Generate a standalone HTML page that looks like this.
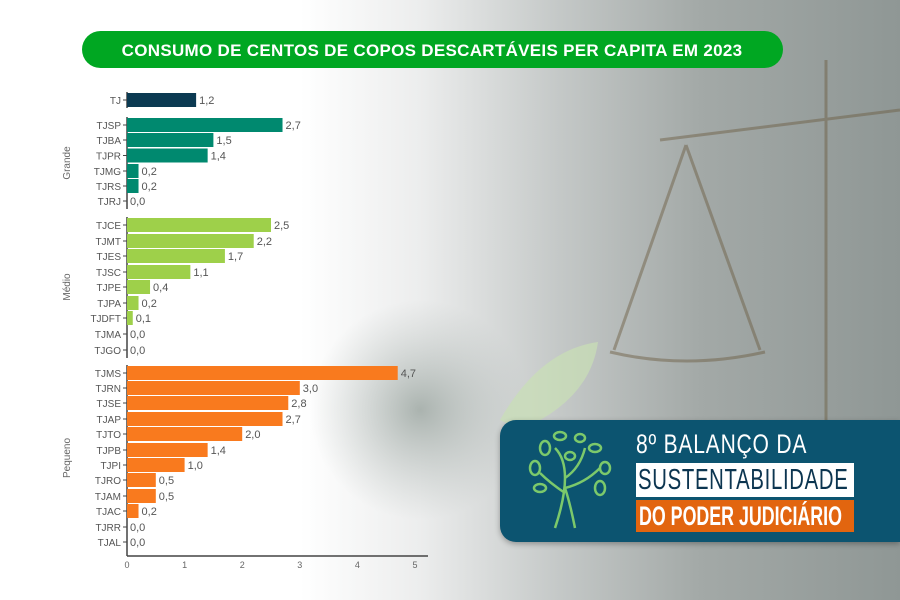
<!DOCTYPE html>
<html><head><meta charset="utf-8"><style>
html,body{margin:0;padding:0;width:900px;height:600px;overflow:hidden}
body{background:linear-gradient(90deg,#fff 0px,#fff 300px,#eceded 420px,#c4c8c7 560px,#a3a9a7 700px,#8f9795 900px);font-family:"Liberation Sans",sans-serif}
div{white-space:nowrap}
</style></head><body>
<svg width="900" height="600" style="position:absolute;left:0;top:0" font-family="Liberation Sans, sans-serif">
<defs>
<radialGradient id="g" cx="0.5" cy="0.5" r="0.5"><stop offset="0" stop-color="#8e9a94" stop-opacity="0.7"/><stop offset="1" stop-color="#b0b8b5" stop-opacity="0"/></radialGradient>
</defs>
<circle cx="420" cy="410" r="110" fill="url(#g)"/>
<path d="M500 420 Q540 350 598 342 Q590 400 520 430 Z" fill="#c9e0b5" opacity="0.7"/>
<g stroke="#6a5a3e" stroke-width="3" fill="none" opacity="0.45">
<line x1="826" y1="60" x2="826" y2="420"/>
<line x1="660" y1="140" x2="900" y2="110"/>
<line x1="686" y1="145" x2="614" y2="350"/>
<line x1="686" y1="145" x2="760" y2="350"/>
<path d="M610 352 Q686 370 765 352"/>
</g>
<rect x="82" y="31" width="701" height="37" rx="18.5" fill="#00a722"/>
<text x="432" y="56" fill="#fff" font-size="17" font-weight="bold" text-anchor="middle" letter-spacing="0.3">CONSUMO DE CENTOS DE COPOS DESCARTÁVEIS PER CAPITA EM 2023</text>
<g stroke="#444" stroke-width="1.5">
<line x1="127" y1="92" x2="127" y2="108"/>
<line x1="127" y1="117" x2="127" y2="209"/>
<line x1="127" y1="217" x2="127" y2="358"/>
<line x1="127" y1="365" x2="127" y2="556"/>
<line x1="127" y1="556" x2="428" y2="556"/>
</g>
<g font-size="9" fill="#666" text-anchor="middle">
<text x="127" y="568">0</text><text x="184.6" y="568">1</text><text x="242.2" y="568">2</text><text x="299.8" y="568">3</text><text x="357.4" y="568">4</text><text x="415" y="568">5</text>
</g>
<g font-size="10" fill="#666" text-anchor="middle">
<text transform="translate(70,163) rotate(-90)">Grande</text>
<text transform="translate(70,287) rotate(-90)">Médio</text>
<text transform="translate(70,458) rotate(-90)">Pequeno</text>
</g>
<g id="bars" font-size="11" fill="#555"></g>
</svg>
<script>
var d=[["TJ",100,1.2,"#0b3a52"],
["TJSP",125,2.7,"#00896f"],["TJBA",140,1.5,"#00896f"],["TJPR",155.5,1.4,"#00896f"],["TJMG",171,0.2,"#00896f"],["TJRS",186,0.2,"#00896f"],["TJRJ",201,0,"#00896f"],
["TJCE",225,2.5,"#9ed04a"],["TJMT",241,2.2,"#9ed04a"],["TJES",256,1.7,"#9ed04a"],["TJSC",272,1.1,"#9ed04a"],["TJPE",287,0.4,"#9ed04a"],["TJPA",303,0.2,"#9ed04a"],["TJDFT",318,0.1,"#9ed04a"],["TJMA",334,0,"#9ed04a"],["TJGO",350,0,"#9ed04a"],
["TJMS",373,4.7,"#f97a1e"],["TJRN",388,3.0,"#f97a1e"],["TJSE",403,2.8,"#f97a1e"],["TJAP",419,2.7,"#f97a1e"],["TJTO",434,2.0,"#f97a1e"],["TJPB",450,1.4,"#f97a1e"],["TJPI",465,1.0,"#f97a1e"],["TJRO",480,0.5,"#f97a1e"],["TJAM",496,0.5,"#f97a1e"],["TJAC",511,0.2,"#f97a1e"],["TJRR",527,0,"#f97a1e"],["TJAL",542,0,"#f97a1e"]];
var s="";d.forEach(function(r){var w=r[2]*57.6;
s+='<rect x="127" y="'+(r[1]-7)+'" width="'+w+'" height="14" fill="'+r[3]+'"/>';
s+='<line x1="123" x2="127" y1="'+r[1]+'" y2="'+r[1]+'" stroke="#444"/>';
s+='<text x="121" y="'+(r[1]+4)+'" text-anchor="end" font-size="10" fill="#555">'+r[0]+'</text>';
s+='<text x="'+(130+w)+'" y="'+(r[1]+4)+'">'+r[2].toFixed(1).replace(".",",")+'</text>';});
document.getElementById("bars").innerHTML=s;
</script>
<div style="position:absolute;left:500px;top:420px;width:400px;height:122px;background:#0c5470;border-radius:16px 0 0 16px;box-shadow:0 2px 6px rgba(0,0,0,0.3)"></div>
<svg width="90" height="110" style="position:absolute;left:525px;top:428px" fill="none" stroke="#7cc96b" stroke-width="2.5">
<path d="M30 100 Q40 70 40 50 Q40 30 30 20 M40 50 Q55 40 60 20 M40 60 Q60 55 75 40 M40 65 Q25 55 15 45 M50 100 Q45 75 40 60"/>
<ellipse cx="20" cy="20" rx="5" ry="7"/><ellipse cx="35" cy="8" rx="6" ry="4"/><ellipse cx="55" cy="10" rx="5" ry="4"/><ellipse cx="70" cy="20" rx="6" ry="4"/><ellipse cx="10" cy="40" rx="5" ry="7"/><ellipse cx="80" cy="40" rx="5" ry="6"/><ellipse cx="15" cy="60" rx="6" ry="4"/><ellipse cx="75" cy="60" rx="5" ry="7"/><ellipse cx="45" cy="28" rx="5" ry="4"/>
</svg>
<div style="position:absolute;left:636px;top:429px;color:#fff;font-family:'Liberation Sans',sans-serif;font-size:27px;line-height:30px;transform:scaleX(0.78);transform-origin:left;letter-spacing:1px">8º BALANÇO DA</div>
<div style="position:absolute;left:636px;top:463px;width:218px;height:34px;background:#fff"></div>
<div style="position:absolute;left:638px;top:464px;color:#0c3550;font-family:'Liberation Sans',sans-serif;font-size:29px;line-height:32px;transform:scaleX(0.7);transform-origin:left;letter-spacing:1px">SUSTENTABILIDADE</div>
<div style="position:absolute;left:636px;top:500px;width:218px;height:32px;background:#e2650f"></div>
<div style="position:absolute;left:639px;top:501px;color:#fff;font-family:'Liberation Sans',sans-serif;font-weight:bold;font-size:27px;line-height:30px;transform:scaleX(0.66);transform-origin:left">DO PODER JUDICIÁRIO</div>
</body></html>
